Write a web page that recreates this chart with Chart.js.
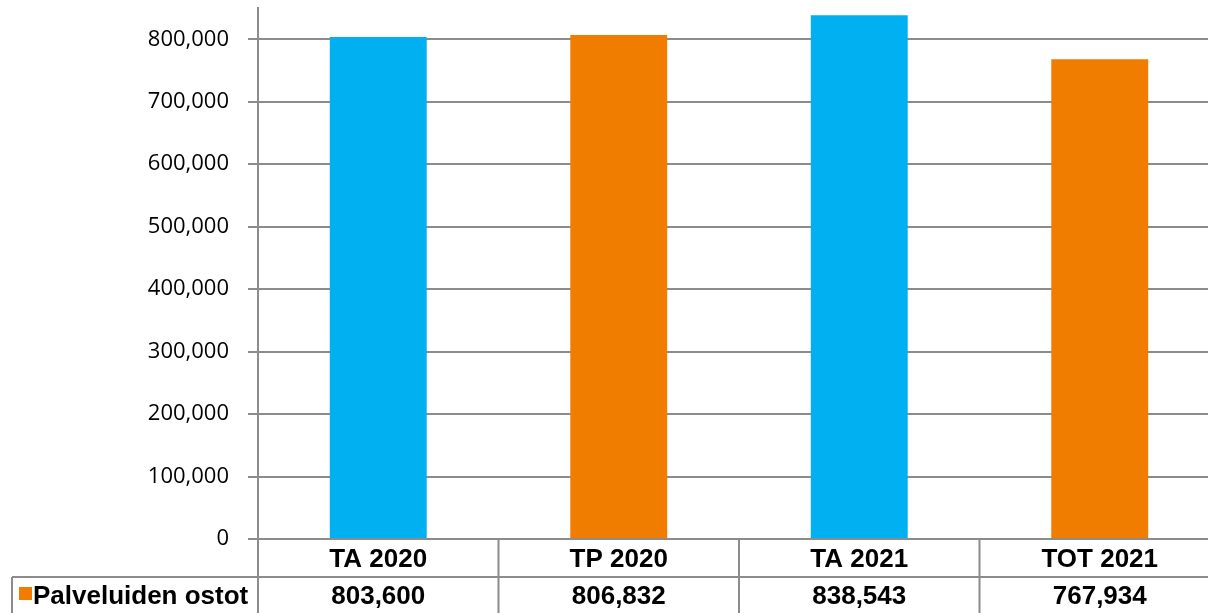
<!DOCTYPE html>
<html>
<head>
<meta charset="utf-8">
<script src="https://cdn.jsdelivr.net/npm/chart.js@4/dist/chart.umd.min.js"></script>
<style>
  html, body { margin: 0; padding: 0; overflow: hidden; background: #fff; }
  #wrap { width: 1222px; height: 613px; }
</style>
</head>
<body>
<div id="wrap"><canvas id="kaavio"></canvas></div>
<script>
const categories = ['TA 2020', 'TP 2020', 'TA 2021', 'TOT 2021'];
const seriesName = 'Palveluiden ostot';
const values = [803600, 806832, 838543, 767934];
const barColors = ['#00B0F0', '#F07D00', '#00B0F0', '#F07D00'];
const yTicks = [0, 100000, 200000, 300000, 400000, 500000, 600000, 700000, 800000];

const gridGray = '#8c8c8c';
const fmt = v => v.toLocaleString('en-US');

// taulukko kaavion alle
const dataTable = {
  id: 'dataTable',
  afterDraw(chart) {
    const c = chart.ctx, x = chart.scales.x, a = chart.chartArea;
    const rowLine = 577, bottom = chart.height;
    c.save();
    c.strokeStyle = gridGray;
    c.lineWidth = 2;
    c.beginPath();
    // pystyviivat kategorioiden väliin
    for (let i = 0; i <= categories.length; i++) {
      const px = a.left + i * (a.right - a.left) / categories.length;
      c.moveTo(px, a.bottom);
      c.lineTo(px, bottom);
    }
    c.moveTo(12, rowLine);
    c.lineTo(chart.width, rowLine);
    c.moveTo(12, rowLine);
    c.lineTo(12, bottom);
    c.stroke();

    c.fillStyle = '#000';
    c.font = 'bold 26px "Liberation Sans", Arial, sans-serif';
    c.textAlign = 'center';
    c.textBaseline = 'middle';
    values.forEach((v, i) => {
      c.fillText(fmt(v), x.getPixelForValue(i), 597);
    });
    c.fillStyle = '#F07D00';
    c.fillRect(19, 587, 13, 13);
    c.fillStyle = '#000';
    c.textAlign = 'left';
    c.fillText(seriesName, 33, 597);
    c.restore();
  }
};

new Chart(document.getElementById('kaavio'), {
  type: 'bar',
  data: {
    labels: categories,
    datasets: [{
      label: seriesName,
      data: values,
      backgroundColor: barColors,
      barPercentage: 0.403,
      categoryPercentage: 1
    }]
  },
  options: {
    responsive: true,
    maintainAspectRatio: false,
    animation: false,
    layout: { padding: { top: 8, right: 2, left: 0, bottom: 0 } },
    plugins: {
      legend: { display: false },
      tooltip: { enabled: false }
    },
    scales: {
      x: {
        grid: { display: false },
        border: { display: false },
        ticks: {
          color: '#000',
          padding: -3,
          font: { family: '"Liberation Sans", Arial, sans-serif', size: 26, weight: 'bold' }
        },
        afterFit: s => { s.height = 74; s.paddingLeft = 0; s.paddingRight = 0; }
      },
      y: {
        min: 0,
        max: 850000,
        afterBuildTicks: s => { s.ticks = yTicks.map(v => ({ value: v })); },
        afterFit: s => { s.width = 258; s.paddingTop = 0; s.paddingBottom = 0; },
        grid: { color: gridGray, lineWidth: 2, tickLength: 10 },
        border: { color: gridGray, width: 2 },
        ticks: {
          color: '#000',
          padding: 19,
          callback: v => fmt(v),
          font: { family: '"Open Sans", sans-serif', size: 22 }
        }
      }
    }
  },
  plugins: [dataTable]
});
</script>
</body>
</html>
